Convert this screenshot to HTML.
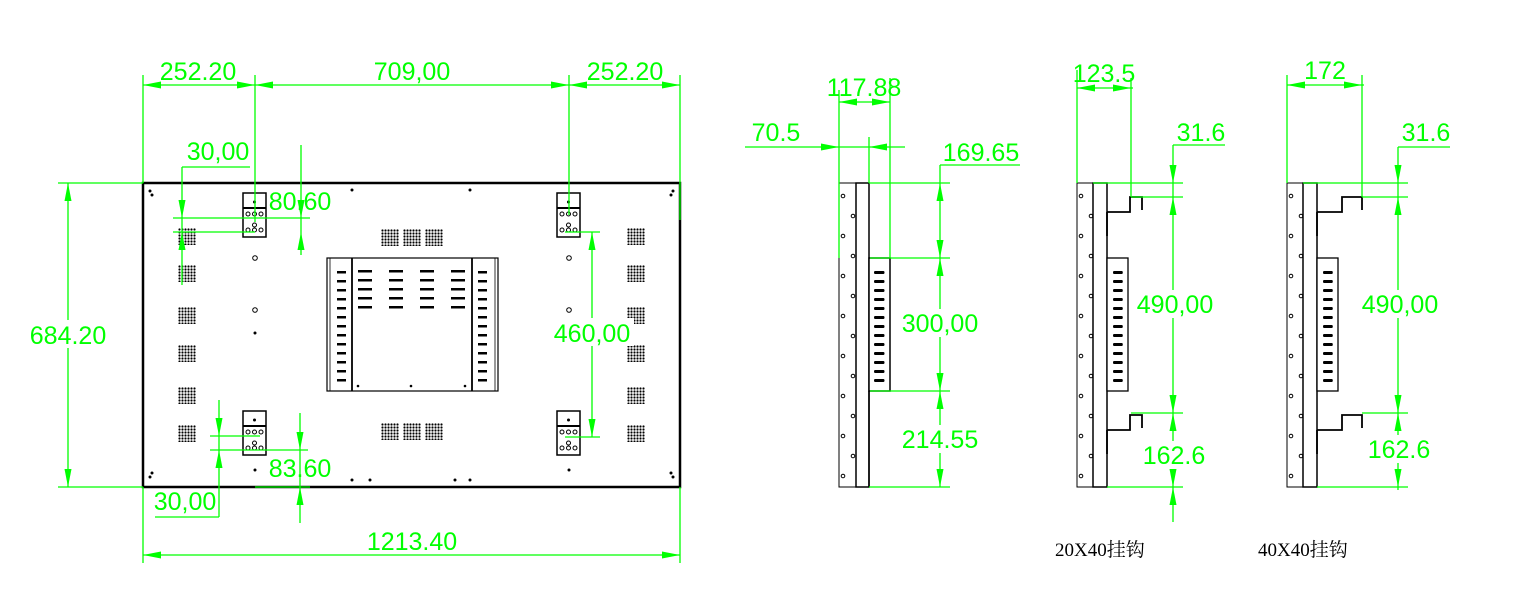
<!DOCTYPE html>
<html><head><meta charset="utf-8"><style>
html,body{margin:0;padding:0;background:#fff}
svg{display:block}
.g{stroke:#00ff00;stroke-width:1.3;fill:none}
.t{fill:#00ff00;font-family:"Liberation Sans",sans-serif;font-size:25px}
.k{stroke:#000;fill:none}
.lab{font-family:"Liberation Serif","Noto Serif CJK SC",serif;font-size:19px;fill:#000}
</style></head><body>
<svg width="1516" height="591" viewBox="0 0 1516 591" xmlns="http://www.w3.org/2000/svg">
<defs>
<path id="a" d="M0 0 L-18 -3.5 L-18 3.5Z" fill="#00ff00"/>
<pattern id="dp" x="0" y="0" width="3" height="3" patternUnits="userSpaceOnUse"><circle cx="1.5" cy="1.5" r="1.1" fill="#000"/></pattern>
<g id="grid"><rect width="18" height="17" fill="url(#dp)"/></g>
<g id="brk">
<rect x="0" y="0" width="23" height="44" fill="#fff" stroke="#000" stroke-width="1.5"/>
<line x1="0" y1="15" x2="23" y2="15" stroke="#000" stroke-width="2"/>
<circle cx="11.5" cy="9" r="1.5" fill="#000"/>
<circle cx="5" cy="21" r="2" class="k"/><circle cx="11.5" cy="21" r="2" class="k"/><circle cx="18" cy="21" r="2" class="k"/>
<circle cx="11.5" cy="32" r="2" class="k"/>
<circle cx="5" cy="37" r="2" class="k"/><circle cx="11.5" cy="37" r="2" class="k"/><circle cx="18" cy="37" r="2" class="k"/>
</g>
<g id="slot"><rect x="0" y="0" width="14" height="3" rx="1.5" fill="#000"/></g>
</defs>

<rect x="143" y="183" width="537" height="304" fill="#fff" stroke="#000" stroke-width="2.5"/>
<circle cx="150" cy="191" r="1.5" fill="#000"/><circle cx="152" cy="195" r="1.5" fill="#000"/>
<circle cx="673" cy="191" r="1.5" fill="#000"/><circle cx="671" cy="195" r="1.5" fill="#000"/>
<circle cx="152" cy="473" r="1.5" fill="#000"/><circle cx="150" cy="477" r="1.5" fill="#000"/>
<circle cx="671" cy="473" r="1.5" fill="#000"/><circle cx="673" cy="477" r="1.5" fill="#000"/>
<circle cx="352" cy="190" r="1.5" fill="#000"/><circle cx="470" cy="190" r="1.5" fill="#000"/>
<circle cx="352" cy="480" r="1.5" fill="#000"/><circle cx="470" cy="480" r="1.5" fill="#000"/>
<circle cx="370" cy="480" r="1.5" fill="#000"/><circle cx="455" cy="480" r="1.5" fill="#000"/>
<circle cx="255" cy="258" r="2.3" class="k"/><circle cx="255" cy="310" r="2.3" class="k"/><circle cx="255" cy="333" r="1.5" fill="#000"/>
<circle cx="255" cy="470" r="1.5" fill="#000"/>
<circle cx="569" cy="258" r="2.3" class="k"/><circle cx="569" cy="310" r="2.3" class="k"/><circle cx="569" cy="333" r="1.5" fill="#000"/>
<circle cx="569" cy="470" r="1.5" fill="#000"/>
<use href="#grid" x="178" y="228"/><use href="#grid" x="178" y="265"/><use href="#grid" x="178" y="307"/>
<use href="#grid" x="178" y="345"/><use href="#grid" x="178" y="387"/><use href="#grid" x="178" y="425"/>
<use href="#grid" x="627" y="228"/><use href="#grid" x="627" y="265"/><use href="#grid" x="627" y="307"/>
<use href="#grid" x="627" y="345"/><use href="#grid" x="627" y="387"/><use href="#grid" x="627" y="425"/>
<use href="#grid" x="381" y="229"/><use href="#grid" x="403" y="229"/><use href="#grid" x="425" y="229"/>
<use href="#grid" x="381" y="423"/><use href="#grid" x="403" y="423"/><use href="#grid" x="425" y="423"/>
<use href="#brk" x="243" y="193"/><use href="#brk" x="557" y="193"/>
<use href="#brk" x="243" y="411"/><use href="#brk" x="557" y="411"/>
<rect x="327" y="258" width="171" height="133" fill="#fff" stroke="#000" stroke-width="1.2"/>
<line x1="352" y1="258" x2="352" y2="391" stroke="#000" stroke-width="1.8"/>
<line x1="472" y1="258" x2="472" y2="391" stroke="#000" stroke-width="1.8"/>
<line x1="330" y1="258" x2="330" y2="391" stroke="#000" stroke-width="0.8"/>
<line x1="495" y1="258" x2="495" y2="391" stroke="#000" stroke-width="0.8"/>
<g fill="#000">
<rect x="358" y="270" width="14" height="2.5"/><rect x="389" y="270" width="14" height="2.5"/><rect x="420" y="270" width="14" height="2.5"/><rect x="451" y="270" width="14" height="2.5"/>
<rect x="358" y="279" width="14" height="2.5"/><rect x="389" y="279" width="14" height="2.5"/><rect x="420" y="279" width="14" height="2.5"/><rect x="451" y="279" width="14" height="2.5"/>
<rect x="358" y="288" width="14" height="2.5"/><rect x="389" y="288" width="14" height="2.5"/><rect x="420" y="288" width="14" height="2.5"/><rect x="451" y="288" width="14" height="2.5"/>
<rect x="358" y="297" width="14" height="2.5"/><rect x="389" y="297" width="14" height="2.5"/><rect x="420" y="297" width="14" height="2.5"/><rect x="451" y="297" width="14" height="2.5"/>
<rect x="358" y="306" width="14" height="2.5"/><rect x="389" y="306" width="14" height="2.5"/><rect x="420" y="306" width="14" height="2.5"/><rect x="451" y="306" width="14" height="2.5"/>
</g>
<g fill="#000">
<rect x="337" y="271" width="9" height="2.5"/><rect x="337" y="280" width="9" height="2.5"/><rect x="337" y="289" width="9" height="2.5"/><rect x="337" y="298" width="9" height="2.5"/><rect x="337" y="307" width="9" height="2.5"/><rect x="337" y="316" width="9" height="2.5"/><rect x="337" y="325" width="9" height="2.5"/><rect x="337" y="334" width="9" height="2.5"/><rect x="337" y="343" width="9" height="2.5"/><rect x="337" y="352" width="9" height="2.5"/><rect x="337" y="361" width="9" height="2.5"/><rect x="337" y="370" width="9" height="2.5"/><rect x="337" y="379" width="9" height="2.5"/>
<rect x="478" y="271" width="9" height="2.5"/><rect x="478" y="280" width="9" height="2.5"/><rect x="478" y="289" width="9" height="2.5"/><rect x="478" y="298" width="9" height="2.5"/><rect x="478" y="307" width="9" height="2.5"/><rect x="478" y="316" width="9" height="2.5"/><rect x="478" y="325" width="9" height="2.5"/><rect x="478" y="334" width="9" height="2.5"/><rect x="478" y="343" width="9" height="2.5"/><rect x="478" y="352" width="9" height="2.5"/><rect x="478" y="361" width="9" height="2.5"/><rect x="478" y="370" width="9" height="2.5"/><rect x="478" y="379" width="9" height="2.5"/>
<circle cx="358" cy="386" r="1.3"/><circle cx="411" cy="386" r="1.3"/><circle cx="465" cy="386" r="1.3"/>
</g>

<g class="g">
<line x1="143" y1="85" x2="680" y2="85"/>
<line x1="143" y1="75" x2="143" y2="183"/><line x1="680" y1="75" x2="680" y2="220"/>
<line x1="255" y1="75" x2="255" y2="222"/><line x1="569" y1="75" x2="569" y2="215"/>
<line x1="68" y1="183" x2="68" y2="487"/>
<line x1="58" y1="183" x2="143" y2="183"/><line x1="58" y1="487" x2="143" y2="487"/>
<line x1="143" y1="555" x2="680" y2="555"/>
<line x1="143" y1="487" x2="143" y2="563"/><line x1="680" y1="487" x2="680" y2="563"/>
<line x1="182" y1="167" x2="250" y2="167"/><line x1="182" y1="167" x2="182" y2="285"/>
<line x1="173" y1="218" x2="310" y2="218"/><line x1="173" y1="232" x2="255" y2="232"/>
<line x1="301" y1="145" x2="301" y2="255"/>
<line x1="592" y1="232" x2="592" y2="437"/>
<line x1="565" y1="232" x2="600" y2="232"/><line x1="565" y1="437" x2="600" y2="437"/>
<line x1="219" y1="400" x2="219" y2="517"/><line x1="155" y1="517" x2="219" y2="517"/>
<line x1="210" y1="436" x2="260" y2="436"/><line x1="210" y1="450" x2="308" y2="450"/>
<line x1="300" y1="413" x2="300" y2="523"/><line x1="255" y1="487" x2="310" y2="487"/>
</g>
<g>
<use href="#a" transform="translate(143,85) rotate(180)"/><use href="#a" transform="translate(255,85)"/>
<use href="#a" transform="translate(255,85) rotate(180)"/><use href="#a" transform="translate(569,85)"/>
<use href="#a" transform="translate(569,85) rotate(180)"/><use href="#a" transform="translate(680,85)"/>
<use href="#a" transform="translate(68,183) rotate(-90)"/><use href="#a" transform="translate(68,487) rotate(90)"/>
<use href="#a" transform="translate(143,555) rotate(180)"/><use href="#a" transform="translate(680,555)"/>
<use href="#a" transform="translate(182,218) rotate(90)"/><use href="#a" transform="translate(182,232) rotate(-90)"/>
<use href="#a" transform="translate(301,218) rotate(90)"/><use href="#a" transform="translate(301,232) rotate(-90)"/>
<use href="#a" transform="translate(592,232) rotate(-90)"/><use href="#a" transform="translate(592,437) rotate(90)"/>
<use href="#a" transform="translate(219,436) rotate(90)"/><use href="#a" transform="translate(219,450) rotate(-90)"/>
<use href="#a" transform="translate(300,450) rotate(90)"/><use href="#a" transform="translate(300,487) rotate(-90)"/>
</g>
<rect x="26" y="320" width="84" height="28" fill="#fff"/>
<rect x="550" y="318" width="84" height="28" fill="#fff"/>
<g class="t">
<text x="198" y="80" text-anchor="middle">252.20</text>
<text x="412" y="80" text-anchor="middle">709,00</text>
<text x="625" y="80" text-anchor="middle">252.20</text>
<text x="68" y="344" text-anchor="middle">684.20</text>
<text x="412" y="550" text-anchor="middle">1213.40</text>
<text x="218" y="160" text-anchor="middle">30,00</text>
<text x="300" y="210" text-anchor="middle">80.60</text>
<text x="592" y="342" text-anchor="middle">460,00</text>
<text x="185" y="510" text-anchor="middle">30,00</text>
<text x="300" y="477" text-anchor="middle">83.60</text>
</g>

<rect x="839" y="183" width="17" height="304" fill="#fff" stroke="#000" stroke-width="1"/>
<rect x="856" y="183" width="13" height="304" fill="#fff" stroke="#000" stroke-width="1.5"/>
<rect x="869" y="258" width="21" height="133" fill="#fff" stroke="#000" stroke-width="1.5"/>
<line x1="869" y1="391" x2="869" y2="487" stroke="#000" stroke-width="1.5"/>
<g class="k" stroke-width="1">
<circle cx="843" cy="196" r="1.8"/><circle cx="853" cy="216" r="1.8"/><circle cx="843" cy="236" r="1.8"/><circle cx="853" cy="256" r="1.8"/>
<circle cx="843" cy="276" r="1.8"/><circle cx="853" cy="296" r="1.8"/><circle cx="843" cy="316" r="1.8"/><circle cx="853" cy="336" r="1.8"/>
<circle cx="843" cy="356" r="1.8"/><circle cx="853" cy="376" r="1.8"/><circle cx="843" cy="396" r="1.8"/><circle cx="853" cy="416" r="1.8"/>
<circle cx="843" cy="436" r="1.8"/><circle cx="853" cy="456" r="1.8"/><circle cx="843" cy="476" r="1.8"/>
</g>
<g fill="#000">
<use href="#slot" transform="translate(874,271) scale(0.75,1)"/><use href="#slot" transform="translate(874,280) scale(0.75,1)"/><use href="#slot" transform="translate(874,289) scale(0.75,1)"/><use href="#slot" transform="translate(874,298) scale(0.75,1)"/><use href="#slot" transform="translate(874,307) scale(0.75,1)"/><use href="#slot" transform="translate(874,316) scale(0.75,1)"/><use href="#slot" transform="translate(874,325) scale(0.75,1)"/><use href="#slot" transform="translate(874,334) scale(0.75,1)"/><use href="#slot" transform="translate(874,343) scale(0.75,1)"/><use href="#slot" transform="translate(874,352) scale(0.75,1)"/><use href="#slot" transform="translate(874,361) scale(0.75,1)"/><use href="#slot" transform="translate(874,370) scale(0.75,1)"/><use href="#slot" transform="translate(874,379) scale(0.75,1)"/>
</g>
<g class="g">
<line x1="839" y1="90" x2="839" y2="258"/><line x1="890" y1="78" x2="890" y2="258"/>
<line x1="839" y1="102" x2="890" y2="102"/>
<line x1="745" y1="147" x2="905" y2="147"/><line x1="869" y1="137" x2="869" y2="183"/>
<line x1="940" y1="165" x2="1020" y2="165"/><line x1="940" y1="165" x2="940" y2="487"/>
<line x1="869" y1="183" x2="950" y2="183"/><line x1="870" y1="258" x2="950" y2="258"/>
<line x1="870" y1="391" x2="950" y2="391"/><line x1="869" y1="487" x2="950" y2="487"/>
</g>
<use href="#a" transform="translate(839,102) rotate(180)"/><use href="#a" transform="translate(890,102)"/>
<use href="#a" transform="translate(839,147)"/><use href="#a" transform="translate(869,147) rotate(180)"/>
<use href="#a" transform="translate(940,183) rotate(-90)"/><use href="#a" transform="translate(940,258) rotate(90)"/>
<use href="#a" transform="translate(940,258) rotate(-90)"/><use href="#a" transform="translate(940,391) rotate(90)"/>
<use href="#a" transform="translate(940,391) rotate(-90)"/><use href="#a" transform="translate(940,487) rotate(90)"/>
<rect x="897" y="309" width="86" height="28" fill="#fff"/><rect x="897" y="425" width="86" height="28" fill="#fff"/>
<g class="t">
<text x="864" y="96" text-anchor="middle">117.88</text>
<text x="776" y="141" text-anchor="middle">70.5</text>
<text x="981" y="161" text-anchor="middle">169.65</text>
<text x="940" y="332" text-anchor="middle">300,00</text>
<text x="940" y="448" text-anchor="middle">214.55</text>
</g>

<rect x="1077" y="183" width="16" height="304" fill="#fff" stroke="#000" stroke-width="1"/>
<rect x="1093" y="183" width="14" height="304" fill="#fff" stroke="#000" stroke-width="1.5"/>
<rect x="1107" y="258" width="21" height="133" fill="#fff" stroke="#000" stroke-width="1.3"/>
<g class="k" stroke-width="1.8">
<path d="M1107 212 L1130 212 L1130 197 L1142 197 L1142 210"/>
<path d="M1107 430 L1130 430 L1130 415 L1142 415 L1142 428"/>
<line x1="1107" y1="212" x2="1107" y2="236"/><line x1="1107" y1="430" x2="1107" y2="454"/>
</g>
<g class="k" stroke-width="1">
<circle cx="1081" cy="196" r="1.8"/><circle cx="1091" cy="216" r="1.8"/><circle cx="1081" cy="236" r="1.8"/><circle cx="1091" cy="256" r="1.8"/>
<circle cx="1081" cy="276" r="1.8"/><circle cx="1091" cy="296" r="1.8"/><circle cx="1081" cy="316" r="1.8"/><circle cx="1091" cy="336" r="1.8"/>
<circle cx="1081" cy="356" r="1.8"/><circle cx="1091" cy="376" r="1.8"/><circle cx="1081" cy="396" r="1.8"/><circle cx="1091" cy="416" r="1.8"/>
<circle cx="1081" cy="436" r="1.8"/><circle cx="1091" cy="456" r="1.8"/><circle cx="1081" cy="476" r="1.8"/>
</g>
<g>
<use href="#slot" transform="translate(1113,271) scale(0.7,1)"/><use href="#slot" transform="translate(1113,280) scale(0.7,1)"/><use href="#slot" transform="translate(1113,289) scale(0.7,1)"/><use href="#slot" transform="translate(1113,298) scale(0.7,1)"/><use href="#slot" transform="translate(1113,307) scale(0.7,1)"/><use href="#slot" transform="translate(1113,316) scale(0.7,1)"/><use href="#slot" transform="translate(1113,325) scale(0.7,1)"/><use href="#slot" transform="translate(1113,334) scale(0.7,1)"/><use href="#slot" transform="translate(1113,343) scale(0.7,1)"/><use href="#slot" transform="translate(1113,352) scale(0.7,1)"/><use href="#slot" transform="translate(1113,361) scale(0.7,1)"/><use href="#slot" transform="translate(1113,370) scale(0.7,1)"/><use href="#slot" transform="translate(1113,379) scale(0.7,1)"/>
</g>
<g class="g">
<line x1="1077" y1="70" x2="1077" y2="183"/><line x1="1131" y1="78" x2="1131" y2="197"/>
<line x1="1077" y1="88" x2="1133" y2="88"/>
<line x1="1173" y1="145" x2="1225" y2="145"/><line x1="1173" y1="145" x2="1173" y2="522"/>
<line x1="1093" y1="183" x2="1183" y2="183"/><line x1="1131" y1="197" x2="1183" y2="197"/>
<line x1="1131" y1="413" x2="1183" y2="413"/><line x1="1107" y1="487" x2="1183" y2="487"/>
</g>
<use href="#a" transform="translate(1077,88) rotate(180)"/><use href="#a" transform="translate(1131,88)"/>
<use href="#a" transform="translate(1173,183) rotate(90)"/><use href="#a" transform="translate(1173,197) rotate(-90)"/>
<use href="#a" transform="translate(1173,413) rotate(90)"/><use href="#a" transform="translate(1173,413) rotate(-90)"/>
<use href="#a" transform="translate(1173,487) rotate(90)"/><use href="#a" transform="translate(1173,487) rotate(-90)"/>
<rect x="1133" y="290" width="86" height="28" fill="#fff"/><rect x="1138" y="441" width="72" height="28" fill="#fff"/>
<g class="t">
<text x="1104" y="82" text-anchor="middle">123.5</text>
<text x="1201" y="141" text-anchor="middle">31.6</text>
<text x="1175" y="313" text-anchor="middle">490,00</text>
<text x="1174" y="464" text-anchor="middle">162.6</text>
</g>
<text class="lab" x="1055" y="556">20X40挂钩</text>

<rect x="1287" y="183" width="16" height="304" fill="#fff" stroke="#000" stroke-width="1"/>
<rect x="1303" y="183" width="14" height="304" fill="#fff" stroke="#000" stroke-width="1.5"/>
<rect x="1317" y="258" width="21" height="133" fill="#fff" stroke="#000" stroke-width="1.3"/>
<g class="k" stroke-width="1.8">
<path d="M1317 212 L1342 212 L1342 197 L1362 197 L1362 210"/>
<path d="M1317 430 L1342 430 L1342 415 L1362 415 L1362 428"/>
<line x1="1317" y1="212" x2="1317" y2="236"/><line x1="1317" y1="430" x2="1317" y2="454"/>
</g>
<g class="k" stroke-width="1">
<circle cx="1291" cy="196" r="1.8"/><circle cx="1301" cy="216" r="1.8"/><circle cx="1291" cy="236" r="1.8"/><circle cx="1301" cy="256" r="1.8"/>
<circle cx="1291" cy="276" r="1.8"/><circle cx="1301" cy="296" r="1.8"/><circle cx="1291" cy="316" r="1.8"/><circle cx="1301" cy="336" r="1.8"/>
<circle cx="1291" cy="356" r="1.8"/><circle cx="1301" cy="376" r="1.8"/><circle cx="1291" cy="396" r="1.8"/><circle cx="1301" cy="416" r="1.8"/>
<circle cx="1291" cy="436" r="1.8"/><circle cx="1301" cy="456" r="1.8"/><circle cx="1291" cy="476" r="1.8"/>
</g>
<g>
<use href="#slot" transform="translate(1323,271) scale(0.7,1)"/><use href="#slot" transform="translate(1323,280) scale(0.7,1)"/><use href="#slot" transform="translate(1323,289) scale(0.7,1)"/><use href="#slot" transform="translate(1323,298) scale(0.7,1)"/><use href="#slot" transform="translate(1323,307) scale(0.7,1)"/><use href="#slot" transform="translate(1323,316) scale(0.7,1)"/><use href="#slot" transform="translate(1323,325) scale(0.7,1)"/><use href="#slot" transform="translate(1323,334) scale(0.7,1)"/><use href="#slot" transform="translate(1323,343) scale(0.7,1)"/><use href="#slot" transform="translate(1323,352) scale(0.7,1)"/><use href="#slot" transform="translate(1323,361) scale(0.7,1)"/><use href="#slot" transform="translate(1323,370) scale(0.7,1)"/><use href="#slot" transform="translate(1323,379) scale(0.7,1)"/>
</g>
<g class="g">
<line x1="1287" y1="75" x2="1287" y2="183"/><line x1="1362" y1="75" x2="1362" y2="197"/>
<line x1="1287" y1="85" x2="1364" y2="85"/>
<line x1="1398" y1="147" x2="1450" y2="147"/><line x1="1398" y1="147" x2="1398" y2="490"/>
<line x1="1303" y1="183" x2="1408" y2="183"/><line x1="1362" y1="197" x2="1408" y2="197"/>
<line x1="1362" y1="413" x2="1408" y2="413"/><line x1="1317" y1="487" x2="1408" y2="487"/>
</g>
<use href="#a" transform="translate(1287,85) rotate(180)"/><use href="#a" transform="translate(1362,85)"/>
<use href="#a" transform="translate(1398,183) rotate(90)"/><use href="#a" transform="translate(1398,197) rotate(-90)"/>
<use href="#a" transform="translate(1398,413) rotate(90)"/><use href="#a" transform="translate(1398,413) rotate(-90)"/>
<use href="#a" transform="translate(1398,487) rotate(90)"/>
<rect x="1358" y="290" width="86" height="28" fill="#fff"/><rect x="1363" y="435" width="72" height="28" fill="#fff"/>
<g class="t">
<text x="1325" y="79" text-anchor="middle">172</text>
<text x="1426" y="141" text-anchor="middle">31.6</text>
<text x="1400" y="313" text-anchor="middle">490,00</text>
<text x="1399" y="458" text-anchor="middle">162.6</text>
</g>
<text class="lab" x="1258" y="556">40X40挂钩</text>
</svg>
</body></html>
